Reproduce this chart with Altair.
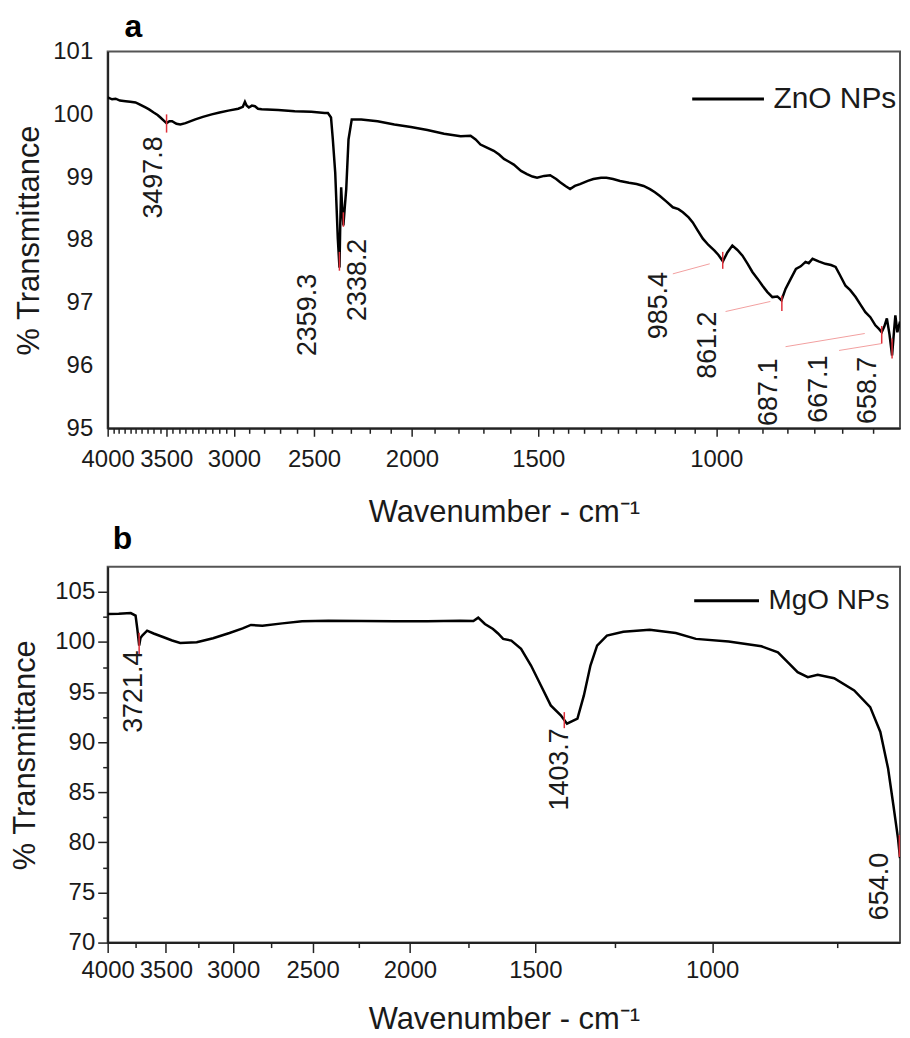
import altair as alt
import pandas as pd

FONT = "Liberation Sans"
INK = "#1a1a1a"

# ---------------- data ----------------
zno_wn = [4000, 3960, 3928, 3890, 3840, 3800, 3754, 3720, 3670, 3640, 3602, 3570, 3547, 3520,
          3498, 3475, 3454, 3420, 3390, 3350, 3276, 3220, 3156, 3100, 3039, 2971, 2940, 2926,
          2915, 2900, 2880, 2860, 2840, 2817, 2713, 2612, 2515, 2440, 2422, 2405, 2395, 2382,
          2368, 2359, 2355, 2350, 2345, 2338, 2330, 2323, 2311, 2294, 2245, 2163, 2082, 2005,
          1931, 1859, 1790, 1750, 1730, 1711, 1690, 1660, 1640, 1622, 1605, 1586, 1560, 1539,
          1520, 1504, 1480, 1460, 1440, 1427, 1410, 1395, 1380, 1364, 1340, 1323, 1300, 1284,
          1265, 1245, 1220, 1199, 1180, 1163, 1150, 1137, 1120, 1104, 1090, 1079, 1065, 1055,
          1043, 1031, 1018, 1004, 995, 985, 975, 964, 953, 942, 931, 921, 910, 900, 890, 880,
          870, 862, 854, 844, 834, 825, 816, 810, 803, 792, 780, 770, 762, 755, 745, 737, 728,
          720, 712, 704, 696, 690, 686, 682, 678, 674, 670, 667, 665, 662, 658]
zno_t = [100.27, 100.24, 100.25, 100.22, 100.21, 100.20, 100.19, 100.16, 100.11, 100.08, 100.03,
         99.99, 99.95, 99.90, 99.86, 99.89, 99.89, 99.85, 99.84, 99.86, 99.92, 99.96, 100.00,
         100.03, 100.06, 100.09, 100.12, 100.20, 100.14, 100.11, 100.14, 100.13, 100.09, 100.08,
         100.07, 100.05, 100.04, 100.02, 100.02, 99.95, 99.60, 99.07, 98.02, 97.56, 98.23, 98.84,
         98.54, 98.23, 98.55, 98.81, 99.60, 99.92, 99.92, 99.89, 99.84, 99.80, 99.75, 99.69,
         99.65, 99.66, 99.60, 99.52, 99.48, 99.42, 99.36, 99.29, 99.25, 99.20, 99.10, 99.05,
         99.01, 98.99, 99.02, 99.03, 98.97, 98.92, 98.86, 98.81, 98.86, 98.89, 98.94, 98.97,
         98.99, 98.99, 98.97, 98.94, 98.91, 98.89, 98.86, 98.81, 98.76, 98.70, 98.61, 98.52,
         98.49, 98.44, 98.36, 98.28, 98.15, 98.02, 97.92, 97.83, 97.76, 97.66, 97.80, 97.91,
         97.84, 97.75, 97.62, 97.49, 97.38, 97.27, 97.17, 97.09, 97.10, 97.04, 97.22, 97.38,
         97.54, 97.58, 97.65, 97.63, 97.70, 97.66, 97.62, 97.60, 97.57, 97.45, 97.27, 97.20,
         97.09, 96.97, 96.85, 96.77, 96.64, 96.58, 96.53, 96.62, 96.75, 96.50, 96.16, 96.55,
         96.80, 96.53, 96.70]

mgo_wn = [4000, 3900, 3794, 3752, 3737, 3721, 3710, 3695, 3654, 3600, 3518, 3450, 3387, 3261,
          3141, 3025, 2935, 2880, 2805, 2680, 2561, 2411, 2236, 2073, 1922, 1782, 1729, 1710,
          1684, 1653, 1634, 1615, 1585, 1550, 1515, 1481, 1448, 1415, 1395, 1362, 1342, 1322,
          1302, 1273, 1226, 1154, 1087, 1038, 963, 893, 860, 841, 822, 803, 785, 756, 722, 696,
          680, 668, 660, 653, 650]
mgo_t = [102.79, 102.82, 102.89, 102.63, 101.30, 99.64, 100.40, 100.64, 101.13, 100.85, 100.47,
         100.15, 99.91, 99.97, 100.37, 100.90, 101.36, 101.70, 101.63, 101.86, 102.06, 102.13,
         102.10, 102.06, 102.06, 102.13, 102.10, 102.43, 101.80, 101.30, 100.85, 100.31, 100.14,
         99.31, 97.65, 95.66, 93.67, 92.68, 91.85, 92.35, 94.67, 97.65, 99.64, 100.64, 101.03,
         101.23, 100.90, 100.31, 100.04, 99.57, 98.97, 97.98, 96.99, 96.49, 96.73, 96.39, 95.17,
         93.50, 91.02, 87.37, 83.73, 80.41, 78.42]

# peak annotations (label text, label anchor wavenumber, transmittance at top of label)
zno_lab_text = ["3497.8", "2359.3", "2338.2", "985.4", "861.2", "687.1", "667.1", "658.7"]
zno_lab_wn = [3596, 2536, 2262, 1140, 1020, 886, 791, 708]
zno_lab_t = [99.65, 97.46, 98.02, 97.49, 96.86, 96.11, 96.16, 96.14]
# red peak markers (wavenumber, upper and lower transmittance)
zno_mk_wn = [3497.8, 2359.3, 2338.2, 985.4, 861.2, 686, 670]
zno_mk_t1 = [100.0, 97.81, 98.44, 97.81, 97.11, 96.63, 96.43]
zno_mk_t2 = [99.71, 97.51, 98.21, 97.54, 96.87, 96.35, 96.11]
# leader lines from labels to peaks
zno_ld_wn1 = [1104, 979, 854, 756]
zno_ld_t1 = [97.46, 96.86, 96.30, 96.24]
zno_ld_wn2 = [1015, 884, 713, 686]
zno_ld_t2 = [97.62, 97.02, 96.51, 96.35]

mgo_lab_text = ["3721.4", "1403.7", "654.0"]
mgo_lab_wn = [3762, 1417, 681]
mgo_lab_t = [99.14, 91.39, 78.95]
mgo_mk_wn = [3721.4, 1403.7, 651]
mgo_mk_t1 = [100.93, 93.0, 80.74]
mgo_mk_t2 = [98.65, 91.4, 78.55]

x_major = [4000, 3500, 3000, 2500, 2000, 1500, 1000]
top_x_minor = ([v for v in range(3950, 3000, -50) if v != 3500]
               + [v for v in range(2900, 1500, -100) if v not in (2500, 2000)]
               + [v for v in range(1450, 650, -50) if v != 1000])
bot_x_minor = [3750, 3250, 2750, 2250, 1750, 1250, 750]
top_y_ticks = [95, 96, 97, 98, 99, 100, 101]
bot_y_ticks = [70, 75, 80, 85, 90, 95, 100, 105]
bot_y_minor = [72.5, 77.5, 82.5, 87.5, 92.5, 97.5, 102.5]

# ---------------- tables ----------------
zno = pd.DataFrame({"wn": zno_wn, "t": zno_t, "series": "ZnO NPs"})
mgo = pd.DataFrame({"wn": mgo_wn, "t": mgo_t, "series": "MgO NPs"})
zno_lab = pd.DataFrame({"txt": zno_lab_text, "wn": zno_lab_wn, "t": zno_lab_t})
zno_mk = pd.DataFrame({"wn": zno_mk_wn, "t1": zno_mk_t1, "t2": zno_mk_t2})
zno_ld = pd.DataFrame({"wn1": zno_ld_wn1, "t1": zno_ld_t1, "wn2": zno_ld_wn2, "t2": zno_ld_t2})
mgo_lab = pd.DataFrame({"txt": mgo_lab_text, "wn": mgo_lab_wn, "t": mgo_lab_t})
mgo_mk = pd.DataFrame({"wn": mgo_mk_wn, "t1": mgo_mk_t1, "t2": mgo_mk_t2})

X_TITLE = "Wavenumber - cm\u207b\u00b9"
Y_TITLE = "% Transmittance"


def build_panel(line_df, lab_df, mk_df, ld_df, x_dom, y_dom, y_ticks, y_minor, x_minor,
                letter, letter_dx, letter_offset, w, h, top_style, legend_x,
                legend_y, legend_size, legend_font, x_label_pad, x_title_pad):
    xs = alt.Scale(type="log", domain=x_dom, reverse=True, nice=False)
    ys = alt.Scale(domain=y_dom, nice=False, zero=False)

    if top_style:
        y_axis = alt.Axis(values=y_ticks, title=Y_TITLE, ticks=False, labelPadding=15,
                          titlePadding=7, grid=False, format="d", orient="left")
        x_tick = 8
        x_minor_tick = 5
    else:
        y_axis = alt.Axis(values=y_ticks, title=Y_TITLE, tickSize=10, labelPadding=3,
                          titlePadding=13, grid=False, format="d", orient="left")
        x_tick = 10
        x_minor_tick = 5

    x_axis = alt.Axis(values=x_major, format="d", title=X_TITLE, labelFlush=False,
                      labelOverlap=False, tickSize=x_tick, labelPadding=x_label_pad,
                      titlePadding=x_title_pad, grid=False, orient="bottom")
    x_minor_axis = alt.Axis(values=x_minor, labels=False, domain=False, tickSize=x_minor_tick,
                            title=None, grid=False, orient="bottom")

    line = alt.Chart(line_df).mark_line(strokeWidth=2.5, clip=True).encode(
        x=alt.X("wn:Q", scale=xs, axis=x_axis),
        y=alt.Y("t:Q", scale=ys, axis=y_axis),
        color=alt.Color("series:N", scale=alt.Scale(range=["black"]),
                        legend=alt.Legend(title=None, orient="none", legendX=legend_x,
                                          legendY=legend_y, symbolType="stroke",
                                          symbolSize=legend_size, symbolStrokeWidth=3,
                                          labelFontSize=legend_font, labelFont=FONT,
                                          labelColor=INK, labelOffset=8, padding=0)),
        order=alt.Order("wn:Q", sort="descending"),
    )

    if y_minor:
        mk_y_axis = alt.Axis(values=y_minor, labels=False, domain=False, tickSize=5,
                             title=None, grid=False, orient="left")
    else:
        mk_y_axis = None

    markers = alt.Chart(mk_df).mark_rule(color="#e0303a", strokeWidth=1.5).encode(
        x=alt.X("wn:Q", scale=xs, axis=x_minor_axis),
        y=alt.Y("t1:Q", scale=ys, axis=mk_y_axis),
        y2="t2:Q",
    )

    labels = alt.Chart(lab_df).mark_text(angle=270, align="right", baseline="middle",
                                         fontSize=27, font=FONT, color=INK).encode(
        x=alt.X("wn:Q", scale=xs, axis=None),
        y=alt.Y("t:Q", scale=ys, axis=None),
        text="txt:N",
    )

    layers = [line, markers, labels]
    if ld_df is not None:
        leaders = alt.Chart(ld_df).mark_rule(color="#f2a0a0", strokeWidth=1).encode(
            x=alt.X("wn1:Q", scale=xs, axis=None),
            y=alt.Y("t1:Q", scale=ys, axis=None),
            x2="wn2:Q",
            y2="t2:Q",
        )
        layers.insert(1, leaders)

    chart = alt.layer(*layers).properties(
        width=w, height=h,
        title=alt.TitleParams(letter, anchor="start", frame="group", fontSize=32,
                              fontWeight="bold", font=FONT, color="black", dx=letter_dx,
                              offset=letter_offset),
    ).resolve_axis(x="independent", y="independent")
    return chart


top = build_panel(zno, zno_lab, zno_mk, zno_ld, [658, 4000], [95, 101], top_y_ticks, None,
                  top_x_minor, "a", 17, -4, 795, 378, True, 585, 10, 5184, 30, 11, 26)
bottom = build_panel(mgo, mgo_lab, mgo_mk, None, [650, 4000], [70, 107.5], bot_y_ticks,
                     bot_y_minor, bot_x_minor, "b", 5, 11, 795, 377, False, 587, 0, 4225, 28,
                     6, 22)

chart = (
    alt.vconcat(top, bottom, spacing=-6)
    .resolve_scale(color="independent")
    .resolve_legend(color="independent")
    .properties(padding={"left": 0, "top": 0, "right": 0, "bottom": 0}, background="white")
    .configure_view(stroke="#555555", strokeWidth=2)
    .configure_axis(domainColor="#222222", domainWidth=2, tickColor="#222222", tickWidth=1.5,
                    labelFont=FONT, labelFontSize=24, labelColor=INK, titleFont=FONT,
                    titleFontSize=31, titleFontWeight="normal", titleColor=INK)
)

chart.save("out.html", embed_options={"renderer": "svg", "actions": False})
